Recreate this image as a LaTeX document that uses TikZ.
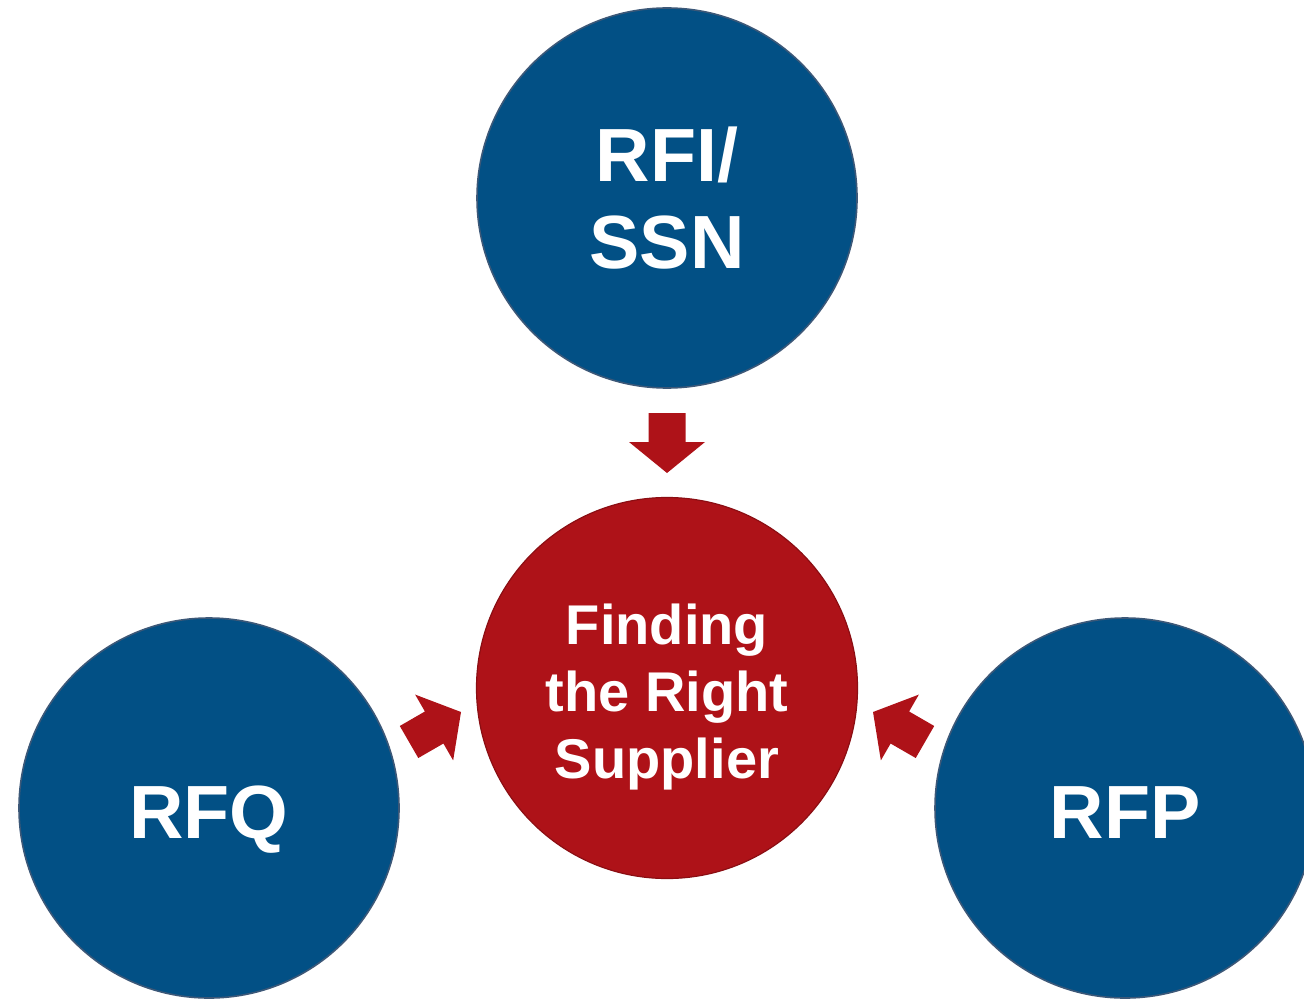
\documentclass[tikz,border=0pt]{standalone}
\usepackage{fontspec}
\setmainfont{Liberation Sans}
\definecolor{cblue}{RGB}{2,80,133}
\definecolor{cblueedge}{RGB}{60,88,120}
\definecolor{cred}{RGB}{174,18,24}
\begin{document}
\begin{tikzpicture}[x=0.5pt,y=-0.5pt,
  bluecirc/.style={circle,fill=cblue,draw=cblueedge,line width=0.8pt,minimum size=190pt,inner sep=0pt},
  redcirc/.style={circle,fill=cred,draw=cred!80!black,line width=0.6pt,minimum size=190.5pt,inner sep=0pt},
  bigtxt/.style={anchor=base,inner sep=0pt,text=white,font=\fontsize{37.7}{42}\selectfont\bfseries},
  smalltxt/.style={anchor=base,inner sep=0pt,text=white,font=\fontsize{28}{33}\selectfont\bfseries},
  blockarrow/.style={fill=cred,draw=none}]
\useasboundingbox (0,0) rectangle (1304,1000);
\begin{scope}
\clip (0,0) rectangle (1304,1000);
\node[bluecirc] (rfi) at (667,198) {};
\node[redcirc] (find) at (667,688) {};
\node[bluecirc] (rfq) at (209,808) {};
\node[bluecirc] (rfp) at (1125,808) {};
\end{scope}
\node[bigtxt] (rfiA) at (667,182) {RFI/};
\node[bigtxt] (rfiB) at (667,268) {SSN};
\node[bigtxt] (rfqT) at (209,838) {RFQ};
\node[bigtxt] (rfpT) at (1125,838) {RFP};
\node[smalltxt] (fA) at (667,644) {Finding};
\node[smalltxt] (fB) at (667,711) {the Right};
\node[smalltxt] (fC) at (667,778) {Supplier};
\coordinate (tipA) at (667,473);
\coordinate (tipB) at (461,712);
\coordinate (tipC) at (873,712);
\foreach \t/\r in {tipA/-90,tipB/30,tipC/150}{
  \begin{scope}[shift={(\t)},rotate=\r]
    \fill[blockarrow] (0,0) -- (-31,38) -- (-31,18.5) -- (-60,18.5) -- (-60,-18.5) -- (-31,-18.5) -- (-31,-38) -- cycle;
  \end{scope}
}
\end{tikzpicture}
\end{document}
